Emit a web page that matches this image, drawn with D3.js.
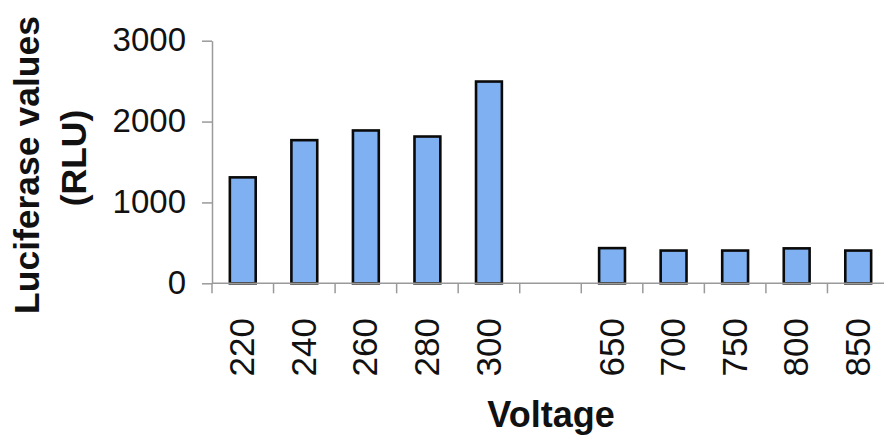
<!DOCTYPE html>
<html>
<head>
<meta charset="utf-8">
<script src="https://cdn.jsdelivr.net/npm/d3@7"></script>
<style>
  html, body { margin: 0; padding: 0; background: #fff; }
  svg { display: block; font-family: "Liberation Sans", Arial, sans-serif; }
</style>
</head>
<body>
<svg id="chart" width="884" height="437"></svg>
<script>
// Voltage settings (one empty slot separates the two groups)
const voltages = ["220", "240", "260", "280", "300", "", "650", "700", "750", "800", "850"];
// Luciferase readings in RLU (null = no bar in the spacer slot)
const luciferase = [1310, 1770, 1890, 1815, 2495, null, 435, 405, 405, 432, 405];
const yTicks = [0, 1000, 2000, 3000];

const svg = d3.select("#chart");
const plotLeft = 212, plotRight = 889, plotTop = 40.7, plotBottom = 283.3;

const x = d3.scaleBand().domain(voltages).range([plotLeft, plotRight]).paddingInner(0).paddingOuter(0);
const y = d3.scaleLinear().domain([0, 3000]).range([plotBottom, plotTop]);
const barW = x.bandwidth() * 0.42;

const axisColor = "#9a9a9a";

// Bars
svg.append("g")
  .selectAll("rect")
  .data(voltages.map((v, i) => ({ v, val: luciferase[i] })).filter(d => d.val != null))
  .join("rect")
  .attr("x", d => x(d.v) + (x.bandwidth() - barW) / 2)
  .attr("y", d => y(d.val))
  .attr("width", barW)
  .attr("height", d => y(0) - y(d.val))
  .attr("fill", "#7fb1f2")
  .attr("stroke", "#0a0a0a")
  .attr("stroke-width", 2.6);

// Y axis
const yAxis = svg.append("g")
  .attr("transform", `translate(${plotLeft},0)`)
  .call(d3.axisLeft(y).tickValues(yTicks).tickFormat(d3.format("d"))
    .tickSize(10).tickSizeOuter(0).tickPadding(16));
yAxis.select(".domain").attr("stroke", axisColor).attr("stroke-width", 1.5);
yAxis.selectAll(".tick line").attr("stroke", axisColor).attr("stroke-width", 1.5);
yAxis.selectAll(".tick text")
  .attr("font-size", 33)
  .attr("font-family", "'Liberation Sans', Arial, sans-serif")
  .attr("fill", "#111")
  .attr("dy", "0.30em");

// X axis line with ticks at the slot boundaries
const gx = svg.append("g");
gx.append("line")
  .attr("x1", plotLeft).attr("x2", plotRight)
  .attr("y1", y(0)).attr("y2", y(0))
  .attr("stroke", axisColor).attr("stroke-width", 1.5);
const bounds = voltages.map(v => x(v)).concat([x(voltages[voltages.length - 1]) + x.bandwidth()]);
gx.selectAll("line.tk")
  .data(bounds)
  .join("line")
  .attr("class", "tk")
  .attr("x1", d => d).attr("x2", d => d)
  .attr("y1", y(0)).attr("y2", y(0) + 10)
  .attr("stroke", axisColor).attr("stroke-width", 1.5);

// Rotated category labels
gx.selectAll("text")
  .data(voltages.filter(v => v !== ""))
  .join("text")
  .attr("transform", d => `translate(${x(d) + x.bandwidth() / 2},318) rotate(-90)`)
  .attr("text-anchor", "end")
  .attr("dy", "0.33em")
  .attr("font-size", 35)
  .attr("fill", "#111")
  .text(d => d);

// Axis titles
svg.append("text")
  .attr("x", 551).attr("y", 427)
  .attr("text-anchor", "middle")
  .attr("font-size", 36)
  .attr("font-weight", "bold")
  .attr("fill", "#111")
  .text("Voltage");

const yTitle = svg.append("g").attr("font-size", 35.5).attr("font-weight", "bold").attr("fill", "#111");
yTitle.append("text")
  .attr("transform", "translate(39,165) rotate(-90)")
  .attr("text-anchor", "middle")
  .text("Luciferase values");
yTitle.append("text")
  .attr("transform", "translate(86,158) rotate(-90)")
  .attr("text-anchor", "middle")
  .text("(RLU)");
</script>
</body>
</html>
